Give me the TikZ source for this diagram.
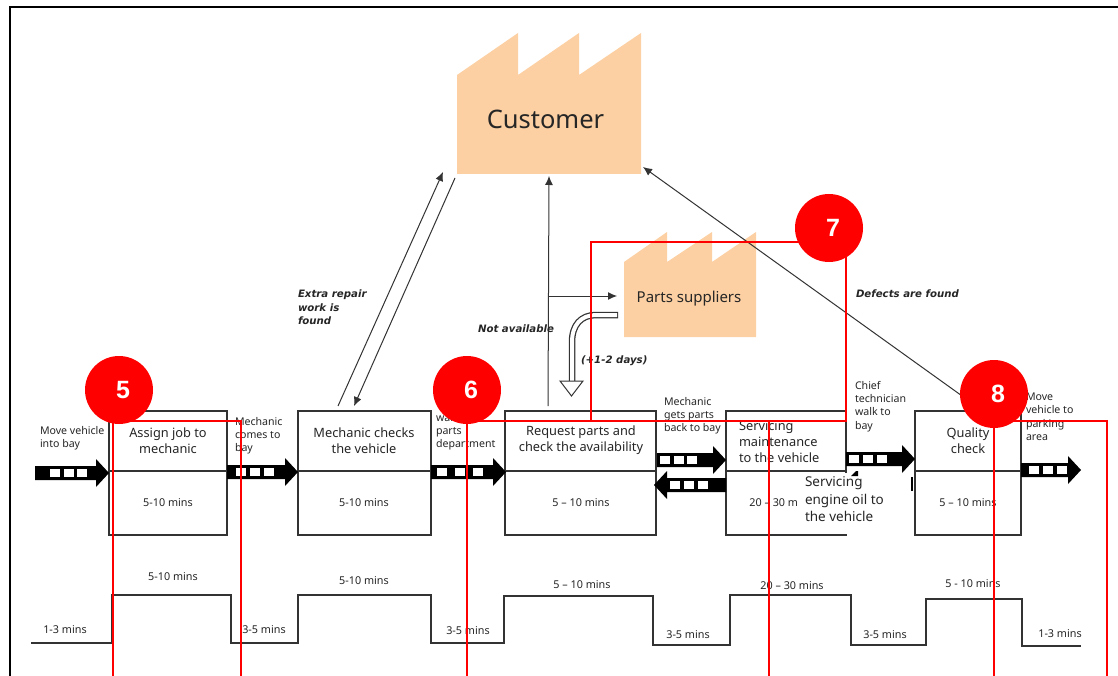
\documentclass[tikz,border=0pt]{standalone}
\usepackage{fontspec}
\setmainfont{Noto Sans}
\newfontfamily\emphfont{DejaVu Sans}
\newfontfamily\numfont{Liberation Sans}
\usetikzlibrary{arrows.meta}
\definecolor{peach}{RGB}{252,208,163}
\definecolor{redl}{RGB}{255,0,0}
\tikzset{x=1pt,y=-1pt,
 every node/.style={inner sep=0pt,outer sep=0pt,text=black!85},
 pbox/.style={draw=black!80,line width=1.3pt},
 flowl/.style={draw=black!80,line width=1.2pt},
 redline/.style={draw=redl,line width=2.8pt},
 redc/.style={circle,fill=redl,minimum size=68pt,text=white,font=\fontsize{25}{25}\selectfont\numfont\bfseries},
 thin arrow/.style={draw=black!80,line width=1pt,-{Latex[length=9pt,width=8pt]}},
 small/.style={font=\fontsize{10.6}{13.3}\selectfont,align=left,anchor=north west},
 mid/.style={font=\fontsize{12.8}{16}\selectfont,align=center},
 time/.style={font=\fontsize{10.8}{12}\selectfont},
 emph/.style={font=\fontsize{10.2}{13.5}\selectfont\emphfont\bfseries\itshape,align=left,anchor=north west}
}
\newcommand{\pusharrow}[5]{% x1 x2 y first-square spacing
 \fill[black] (#1,#3-7) -- (#2-13,#3-7) -- (#2-13,#3-14) -- (#2,#3) -- (#2-13,#3+14) -- (#2-13,#3+7) -- (#1,#3+7) -- cycle;
 \foreach \k in {0,1,2}{\fill[white] (#4+\k*#5,#3-4) rectangle ++(10,8);}
}
\begin{document}
\begin{tikzpicture}
\useasboundingbox (0,0) rectangle (1118,676);
\fill[white] (0,0) rectangle (1118,676);
\draw[black,line width=1.6pt] (10,676) -- (10,7) -- (1118,7);
% factories
\fill[peach] (457,75) -- (518,33) -- (518,75) -- (579,33) -- (579,75) -- (641,33) -- (641,174) -- (457,174) -- cycle;
\node[font=\fontsize{25.5}{26}\selectfont] (cust) at (545.5,119) {Customer};
\fill[peach] (624,262) -- (667,232) -- (667,262) -- (712,232) -- (712,262) -- (756,232) -- (756,337) -- (624,337) -- cycle;
\node[font=\fontsize{15}{15}\selectfont] (parts) at (689,298.5) {Parts suppliers};
% boxes
\foreach \n/\a/\b in {b1/109/227,b2/298/431,b3/505/656,b4/726/846,b5/915/1021}{
 \draw[pbox] (\a,411) rectangle (\b,535);
 \draw[pbox] (\a,471) -- (\b,471);
}
\node[mid] (t1) at (168,441) {Assign job to\\mechanic};
\node[mid] (t2) at (364,441) {Mechanic checks\\the vehicle};
\node[mid] (t3) at (581,440) {Request parts and\\check the availability};
\node[mid,align=left,anchor=north west] (t4) at (739,421) {Servicing\\maintenance\\to the vehicle};
\node[mid] (t5) at (968,441) {Quality\\check};
\foreach \x/\s in {168/5-10 mins,364/5-10 mins,581/5 – 10 mins,781/20 – 30 mins,968/5 – 10 mins}
 \node[time] at (\x,503) {\s};
% push arrows
\pusharrow{35}{109}{473}{50}{13.5}
\pusharrow{227}{298}{472}{236}{14}
\pusharrow{431}{506}{472}{437}{18}
\pusharrow{657}{726}{460}{660}{13.5}
\fill[black] (726,478) -- (667,478) -- (667,471) -- (654,485) -- (667,499) -- (667,492) -- (726,492) -- cycle;
\foreach \k in {0,1,2}{\fill[white] (670+\k*14,481) rectangle ++(10,8);}
\pusharrow{846}{915}{459}{849}{14}
\pusharrow{1021}{1081}{470}{1029}{14}
% labels
\node[small] at (40,426) {Move vehicle\\into bay};
\node[small] at (235,417) {Mechanic\\comes to\\bay};
\node[small] at (436,413) {walk to\\parts\\department};
\node[small] at (664,397) {Mechanic\\gets parts\\back to bay};
\node[small] at (855,381) {Chief\\technician\\walk to\\bay};
\node[small] at (1026,393) {Move\\vehicle to\\parking\\area};
% white box
\fill[white] (797,473) rectangle (911,534);
\fill[black] (856,471) -- (858,471) -- (858,476) -- (851,476) -- cycle;
\fill[black] (911,477) rectangle (913,491);
\node[font=\fontsize{13.5}{17.5}\selectfont,align=left,anchor=north west] (svc) at (805,477) {Servicing\\engine oil to\\the vehicle};
% thin arrows
\coordinate (a1s) at (338,406); \coordinate (a1e) at (443,172);
\coordinate (a2s) at (455,178); \coordinate (a2e) at (354,406);
\coordinate (a3s) at (548,406); \coordinate (a3e) at (549,176);
\coordinate (a4s) at (548,296); \coordinate (a4e) at (617,296);
\coordinate (a5s) at (990,416); \coordinate (a5e) at (643,167);
\draw[thin arrow] (a1s) -- (a1e);
\draw[thin arrow] (a2s) -- (a2e);
\draw[thin arrow] (a3s) -- (a3e);
\draw[thin arrow] (a4s) -- (a4e);
\draw[thin arrow] (a5s) -- (a5e);
% hollow arrow
\draw[black!80,line width=6.5pt,line join=round] (618,315) -- (596,315) .. controls (581,315) and (572,325) .. (572,342) -- (572,382);
\draw[white,line width=4pt] (617,315) -- (596,315) .. controls (581,315) and (572,325) .. (572,342) -- (572,383);
\draw[black!80,fill=white,line width=1pt] (560,381) -- (583,381) -- (571.5,396) -- cycle;
\node[emph] at (298,290) {Extra repair\\work is\\found};
\node[emph] at (478,325) {Not available};
\node[emph] at (581,356) {(+1-2 days)};
\node[emph] at (856,290) {Defects are found};
% timeline
\draw[flowl] (31,643) -- (112,643) -- (112,595) -- (231,595) -- (231,643) -- (298,643) -- (298,595) -- (431,595) -- (431,643) -- (504,643) -- (504,596) -- (653,596) -- (653,645) -- (730,645) -- (730,595) -- (851,595) -- (851,645) -- (926,645) -- (926,599) -- (1022,599) -- (1022,646) -- (1081,646);
\foreach \x/\y/\s in {65/630/1-3 mins,173/577/5-10 mins,264/630/3-5 mins,364/581/5-10 mins,468/631/3-5 mins,582/585/5 – 10 mins,688/635/3-5 mins,792/586/20 – 30 mins,885/635/3-5 mins,973/584/5 - 10 mins,1060/634/1-3 mins}
 \node[time] at (\x,\y) {\s};
% red
\draw[redline] (113,676) -- (113,421) -- (241,421) -- (241,676);
\draw[redline] (467,676) -- (467,421) -- (846,421) -- (846,242) -- (591,242) -- (591,421);
\draw[redline] (769,676) -- (769,421);
\draw[redline] (994,676) -- (994,421) -- (1107,421) -- (1107,676);
\node[redc] (c5) at (119,390) {\hspace*{8pt}5};
\node[redc] (c6) at (467,390) {\hspace*{8pt}6};
\node[redc] (c7) at (829,228) {\hspace*{8pt}7};
\node[redc] (c8) at (994,394) {\hspace*{8pt}8};
\end{tikzpicture}
\end{document}
